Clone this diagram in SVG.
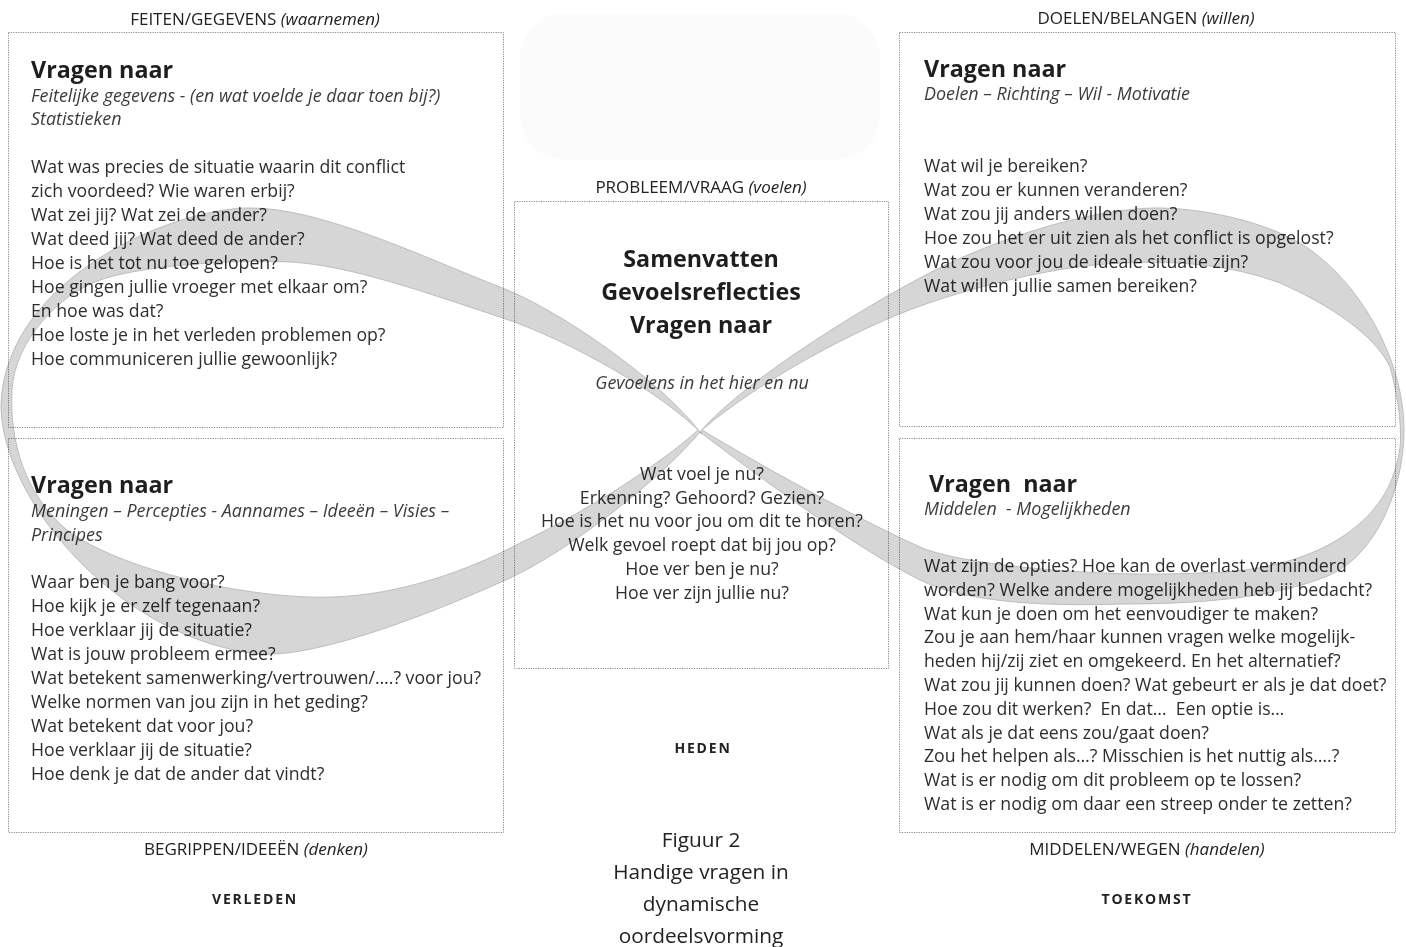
<svg xmlns="http://www.w3.org/2000/svg" width="1406" height="947" viewBox="0 0 1406 947">
<style>
text{font-family:"Open Sans","Noto Sans","Liberation Sans",sans-serif;fill:#2e2e2e}
.box{fill:none;stroke:#8a8a8a;stroke-width:1;stroke-dasharray:1.2 1.2}
.hd{font-size:17px;fill:#222;text-anchor:middle}
.it{font-style:italic}
.title{font-size:23.3px;font-weight:700;fill:#1e1e1e}
.sub{font-size:17.9px;font-style:italic;fill:#3c3c3c}
.q{font-size:17.7px}
.c{text-anchor:middle}
.time{font-size:14px;font-weight:700;letter-spacing:1.8px;fill:#222;text-anchor:middle}
.cap{font-size:20.8px;fill:#222;text-anchor:middle}
.band{fill:#d6d6d6;fill-rule:evenodd;stroke:#bcbcbc;stroke-width:1;mix-blend-mode:multiply}
</style>
<rect width="1406" height="947" fill="#ffffff"/>
<rect x="520" y="13" width="360" height="147" rx="45" fill="#fbfbfc"/>

<g id="feiten">
<text class="hd" x="255" y="25">FEITEN/GEGEVENS <tspan class="it">(waarnemen)</tspan></text>
<rect class="box" x="8.5" y="32.5" width="495" height="395"/>
<text class="title" x="31" y="78">Vragen naar</text>
<text class="sub" x="31" y="101.5">Feitelijke gegevens - (en wat voelde je daar toen bij?)</text>
<text class="sub" x="31" y="125">Statistieken</text>
<text class="q" x="31" y="173">Wat was precies de situatie waarin dit conflict</text>
<text class="q" x="31" y="197">zich voordeed? Wie waren erbij?</text>
<text class="q" x="31" y="221">Wat zei jij? Wat zei de ander?</text>
<text class="q" x="31" y="245">Wat deed jij? Wat deed de ander?</text>
<text class="q" x="31" y="269">Hoe is het tot nu toe gelopen?</text>
<text class="q" x="31" y="293">Hoe gingen jullie vroeger met elkaar om?</text>
<text class="q" x="31" y="317">En hoe was dat?</text>
<text class="q" x="31" y="341">Hoe loste je in het verleden problemen op?</text>
<text class="q" x="31" y="365">Hoe communiceren jullie gewoonlijk?</text>
</g>

<g id="begrippen">
<rect class="box" x="8.5" y="438.5" width="495" height="394"/>
<text class="title" x="31" y="493">Vragen naar</text>
<text class="sub" x="31" y="517">Meningen – Percepties - Aannames – Ideeën – Visies –</text>
<text class="sub" x="31" y="541">Principes</text>
<text class="q" x="31" y="588">Waar ben je bang voor?</text>
<text class="q" x="31" y="612">Hoe kijk je er zelf tegenaan?</text>
<text class="q" x="31" y="636">Hoe verklaar jij de situatie?</text>
<text class="q" x="31" y="660">Wat is jouw probleem ermee?</text>
<text class="q" x="31" y="684">Wat betekent samenwerking/vertrouwen/….? voor jou?</text>
<text class="q" x="31" y="708">Welke normen van jou zijn in het geding?</text>
<text class="q" x="31" y="732">Wat betekent dat voor jou?</text>
<text class="q" x="31" y="756">Hoe verklaar jij de situatie?</text>
<text class="q" x="31" y="780">Hoe denk je dat de ander dat vindt?</text>
<text class="hd" x="256" y="855">BEGRIPPEN/IDEEËN <tspan class="it">(denken)</tspan></text>
<text class="time" x="255" y="904">VERLEDEN</text>
</g>

<g id="probleem">
<text class="hd" x="701" y="193">PROBLEEM/VRAAG <tspan class="it">(voelen)</tspan></text>
<rect class="box" x="514.5" y="201.5" width="374" height="467"/>
<text class="title c" x="701" y="267">Samenvatten</text>
<text class="title c" x="701" y="300">Gevoelsreflecties</text>
<text class="title c" x="701" y="333">Vragen naar</text>
<text class="sub c" x="702" y="389">Gevoelens in het hier en nu</text>
<text class="q c" x="702" y="480">Wat voel je nu?</text>
<text class="q c" x="702" y="503.7">Erkenning? Gehoord? Gezien?</text>
<text class="q c" x="702" y="527.4">Hoe is het nu voor jou om dit te horen?</text>
<text class="q c" x="702" y="551.1">Welk gevoel roept dat bij jou op?</text>
<text class="q c" x="702" y="574.8">Hoe ver ben je nu?</text>
<text class="q c" x="702" y="598.5">Hoe ver zijn jullie nu?</text>
<text class="time" x="703" y="753">HEDEN</text>
</g>

<g id="doelen">
<text class="hd" x="1146" y="24">DOELEN/BELANGEN <tspan class="it">(willen)</tspan></text>
<rect class="box" x="899.5" y="32.5" width="496" height="394"/>
<text class="title" x="924" y="77">Vragen naar</text>
<text class="sub" x="924" y="100">Doelen – Richting – Wil - Motivatie</text>
<text class="q" x="924" y="172">Wat wil je bereiken?</text>
<text class="q" x="924" y="196">Wat zou er kunnen veranderen?</text>
<text class="q" x="924" y="220">Wat zou jij anders willen doen?</text>
<text class="q" x="924" y="244">Hoe zou het er uit zien als het conflict is opgelost?</text>
<text class="q" x="924" y="268">Wat zou voor jou de ideale situatie zijn?</text>
<text class="q" x="924" y="292">Wat willen jullie samen bereiken?</text>
</g>

<g id="middelen">
<rect class="box" x="899.5" y="438.5" width="496" height="394"/>
<text class="title" x="929" y="492">Vragen&#160; naar</text>
<text class="sub" x="924" y="515">Middelen&#160; - Mogelijkheden</text>
<text class="q" x="924" y="572">Wat zijn de opties? Hoe kan de overlast verminderd</text>
<text class="q" x="924" y="595.8">worden? Welke andere mogelijkheden heb jij bedacht?</text>
<text class="q" x="924" y="619.6">Wat kun je doen om het eenvoudiger te maken?</text>
<text class="q" x="924" y="643.4">Zou je aan hem/haar kunnen vragen welke mogelijk-</text>
<text class="q" x="924" y="667.2">heden hij/zij ziet en omgekeerd. En het alternatief?</text>
<text class="q" x="924" y="691">Wat zou jij kunnen doen? Wat gebeurt er als je dat doet?</text>
<text class="q" x="924" y="714.8">Hoe zou dit werken?&#160; En dat…&#160; Een optie is…</text>
<text class="q" x="924" y="738.6">Wat als je dat eens zou/gaat doen?</text>
<text class="q" x="924" y="762.4">Zou het helpen als…? Misschien is het nuttig als….?</text>
<text class="q" x="924" y="786.2">Wat is er nodig om dit probleem op te lossen?</text>
<text class="q" x="924" y="810">Wat is er nodig om daar een streep onder te zetten?</text>
<text class="hd" x="1147" y="855">MIDDELEN/WEGEN <tspan class="it">(handelen)</tspan></text>
<text class="time" x="1147" y="904">TOEKOMST</text>
</g>

<g id="infinity-ribbon">
<path class="band" d="M700,432 C660,380 560,310 500,287 C430,260 320,207 250,208 C170,208 5,280 1,405 C1,500 120,640 260,654 C320,658 440,610 510,578 C570,550 660,480 700,432 Z M702,434 C665,395 570,340 500,317 C430,294 350,265 290,262 C230,259 140,266 100,280 C60,294 15,340 12,390 C9,440 25,495 67,530 C120,570 250,600 333,597 C400,595 470,570 520,543 C580,515 660,465 698,430 Z"/>
<path class="band" d="M700,432 C750,470 850,545 920,580 C970,605 1060,606 1123,604 C1210,604 1280,596 1330,575 C1375,555 1404,490 1404,430 C1404,360 1360,280 1300,243 C1260,220 1200,208 1157,208 C1090,208 990,240 920,278 C850,315 740,385 700,432 Z M702,430 C760,465 850,515 920,547 C960,565 1100,578 1200,573 C1320,572 1385,520 1397,462 C1405,440 1398,395 1390,367 C1375,335 1330,305 1280,283 C1235,266 1180,260 1123,263 C1060,265 980,285 923,305 C860,327 760,380 702,430 Z"/>
</g>

<g id="caption">
<text class="cap" x="701" y="847">Figuur 2</text>
<text class="cap" x="701" y="879">Handige vragen in</text>
<text class="cap" x="701" y="911">dynamische</text>
<text class="cap" x="701" y="943">oordeelsvorming</text>
</g>
</svg>
